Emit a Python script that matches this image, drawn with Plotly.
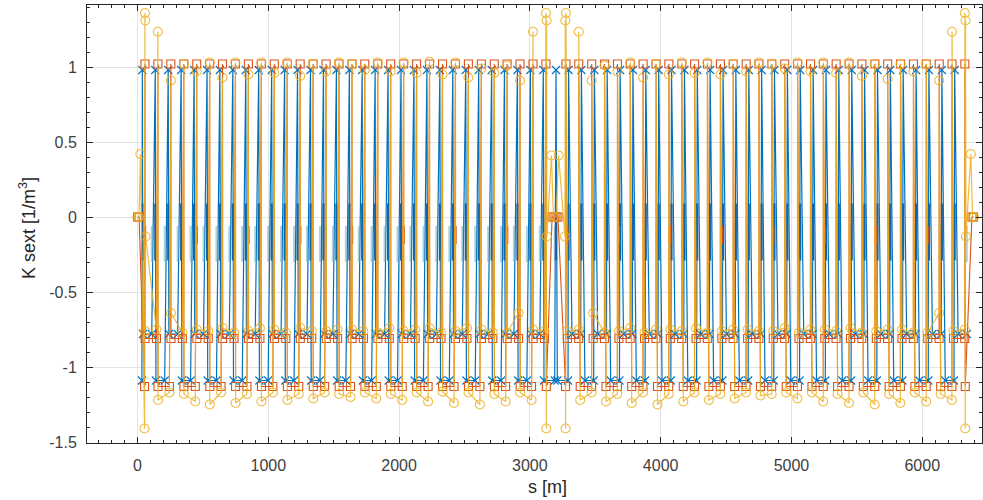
import plotly.graph_objects as go

# ---------------- data ----------------
# sextupole positions shared by the orange and yellow series  [m]
TOP_S = [57, 156, 255, 354, 453, 552, 650, 749, 848, 947, 1046, 1145, 1244, 1343, 1442, 1541,
         1640, 1738, 1837, 1936, 2035, 2134, 2233, 2332, 2431, 2530, 2629, 2728, 2826, 2925, 3024, 3123,
         3276, 3374, 3473, 3571, 3670, 3768, 3866, 3965, 4063, 4162, 4260, 4358, 4457, 4555, 4654, 4752,
         4850, 4949, 5047, 5146, 5244, 5342, 5441, 5539, 5638, 5736, 5834, 5933, 6031, 6130, 6228, 6326]
UPPER_S = [58, 145, 256, 343, 454, 541, 651, 738, 849, 936, 1047, 1134, 1245, 1332, 1443, 1530,
           1641, 1727, 1838, 1925, 2036, 2123, 2234, 2321, 2432, 2519, 2630, 2717, 2827, 2914, 3025, 3112,
           3287, 3373, 3484, 3570, 3681, 3767, 3877, 3964, 4074, 4161, 4271, 4357, 4468, 4554, 4665, 4751,
           4861, 4948, 5058, 5145, 5255, 5341, 5452, 5538, 5649, 5735, 5845, 5932, 6042, 6129, 6239, 6325]
LOWER_S = [54, 157, 244, 355, 442, 553, 639, 750, 837, 948, 1035, 1146, 1233, 1344, 1431, 1542, 1629,
           1739, 1826, 1937, 2024, 2135, 2222, 2333, 2420, 2531, 2618, 2729, 2815, 2926, 3013, 3126,
           3273, 3385, 3472, 3582, 3669, 3779, 3865, 3976, 4062, 4173, 4259, 4369, 4456, 4566, 4653,
           4763, 4849, 4960, 5046, 5157, 5243, 5353, 5440, 5550, 5637, 5747, 5833, 5944, 6030, 6141, 6227, 6329]

# orange series: constant strengths per family, zeros in the insertions
ORANGE_TOP_K = 1.02
ORANGE_UPPER_K = -0.81
ORANGE_LOWER_K = -1.13
ORANGE_INS_S = [0, 12, 3170, 3185, 3200, 3215, 6380, 6392]
ORANGE_INS_K = [0, 0, 0, 0, 0, 0, 0, 0]

# yellow series: individual strengths
YELLOW_TOP_K = [1.36, 1.235, 0.91, 1.02, 0.97, 1.03, 0.93, 1.03, 0.95, 1.03, 0.96, 1.03, 0.94, 1.02, 0.97, 1.03,
                1.02, 0.98, 1.03, 0.97, 1.03, 0.96, 1.035, 0.95, 1.03, 0.93, 0.99, 0.96, 1.01, 0.91, 1.235, 1.36,
                1.36, 1.235, 0.91, 1.01, 0.97, 1.03, 0.93, 1.02, 0.95, 1.03, 0.96, 1.03, 0.95, 1.02, 0.97, 1.03,
                1.02, 0.99, 1.03, 0.97, 1.03, 0.96, 1.03, 0.94, 1.02, 0.92, 1.02, 0.97, 1.02, 0.91, 1.235, 1.36]
YELLOW_UPPER_K = [-0.76, -0.75, -0.64, -0.77, -0.75, -0.76, -0.74, -0.77, -0.76, -0.74, -0.75, -0.77,
                  -0.74, -0.76, -0.76, -0.75, -0.75, -0.76, -0.77, -0.74, -0.76, -0.75, -0.74, -0.77,
                  -0.76, -0.74, -0.75, -0.77, -0.77, -0.64, -0.75, -0.76,
                  -0.76, -0.75, -0.64, -0.77, -0.76, -0.74, -0.77, -0.75, -0.75, -0.76, -0.74, -0.77,
                  -0.76, -0.75, -0.75, -0.76, -0.76, -0.74, -0.77, -0.75, -0.75, -0.76, -0.74, -0.77,
                  -0.76, -0.75, -0.75, -0.77, -0.77, -0.64, -0.76, -0.75]
YELLOW_LOWER_K = [-1.41, -1.22, -1.17, -1.18, -1.23, -1.25, -1.17, -1.24, -1.18, -1.23, -1.17, -1.22, -1.18,
                  -1.21, -1.17, -1.18, -1.20, -1.17, -1.21, -1.18, -1.22, -1.17, -1.23, -1.165, -1.24,
                  -1.17, -1.25, -1.18, -1.23, -1.17, -1.22, -1.41,
                  -1.41, -1.22, -1.17, -1.23, -1.18, -1.24, -1.17, -1.25, -1.18, -1.23, -1.17, -1.22, -1.18,
                  -1.21, -1.17, -1.19, -1.18, -1.17, -1.21, -1.17, -1.23, -1.18, -1.24, -1.17, -1.25,
                  -1.18, -1.24, -1.17, -1.23, -1.18, -1.22, -1.41]
YELLOW_INS_S = [0, 12, 22, 60, 62, 3128, 3130, 3165, 3180, 3200, 3220, 3268, 3271, 6331, 6334, 6372, 6385, 6395]
YELLOW_INS_K = [0, 0, 0.42, 1.31, -0.13, 1.31, -0.13, 0.41, 0, 0, 0.41, -0.13, 1.31, 1.31, -0.13, 0.42, 0, 0]

# blue series
BLUE_TOP_S = [37, 136, 235, 334, 433, 532, 630, 729, 828, 927, 1026, 1125, 1224, 1323, 1422, 1521,
              1620, 1718, 1817, 1916, 2015, 2114, 2213, 2312, 2411, 2510, 2609, 2708, 2806, 2905, 3004, 3103,
              3200,
              3296, 3394, 3493, 3591, 3690, 3788, 3886, 3985, 4083, 4182, 4280, 4378, 4477, 4575, 4674, 4772,
              4870, 4969, 5067, 5166, 5264, 5362, 5461, 5559, 5658, 5756, 5854, 5953, 6051, 6150, 6248]
BLUE_UPPER_S = [42, 109, 240, 307, 438, 505, 635, 702, 833, 900, 1031, 1098, 1229, 1296, 1427, 1494,
                1625, 1692, 1822, 1889, 2020, 2087, 2218, 2285, 2416, 2483, 2614, 2681, 2811, 2878, 3009, 3076,
                3322, 3389, 3519, 3586, 3716, 3783, 3913, 3980, 4110, 4177, 4306, 4373, 4503, 4570, 4700, 4767,
                4897, 4964, 5094, 5161, 5290, 5357, 5487, 5554, 5684, 5751, 5881, 5948, 6078, 6145, 6274, 6341]
BLUE_LOWER_S = [34, 141, 208, 339, 406, 537, 604, 734, 801, 932, 999, 1130, 1197, 1328, 1395, 1526, 1593,
                1723, 1790, 1921, 1988, 2119, 2186, 2317, 2384, 2515, 2582, 2713, 2780, 2910, 2977, 3108,
                3190, 3210,
                3292, 3421, 3488, 3618, 3685, 3814, 3881, 4011, 4078, 4208, 4275, 4405, 4472, 4602, 4669,
                4798, 4865, 4995, 5062, 5192, 5259, 5389, 5456, 5586, 5653, 5782, 5849, 5979, 6046, 6176, 6243]
BLUE_TOP_K = 0.98
BLUE_UPPER_K = -0.78
BLUE_LOWER_K = -1.09

# weak families drawn as short thick strokes around K = 0 (no markers)
WEAK_BLUE_RANGE = [0.09, -0.29]
WEAK_TEAL_RANGE = [-0.06, -0.30]
WEAK_ORANGE_RANGE = [-0.06, -0.18]

X_TICKS = [0, 1000, 2000, 3000, 4000, 5000, 6000]
Y_TICKS = [-1.5, -1, -0.5, 0, 0.5, 1]
Y_TICK_TEXT = ["-1.5", "-1", "-0.5", "0", "0.5", "1"]


def ordered(parts):
    pts = []
    for s_list, k in parts:
        ks = k if isinstance(k, list) else [k] * len(s_list)
        pts.extend(zip(s_list, ks))
    pts.sort(key=lambda p: p[0])
    return [p[0] for p in pts], [p[1] for p in pts]


def strokes(s_list, k_range):
    xs, ys = [], []
    for s in s_list:
        xs += [s, s, None]
        ys += [k_range[0], k_range[1], None]
    return xs, ys


bx, by = ordered([(BLUE_TOP_S, BLUE_TOP_K), (BLUE_UPPER_S, BLUE_UPPER_K), (BLUE_LOWER_S, BLUE_LOWER_K)])
ox, oy = ordered([(TOP_S, ORANGE_TOP_K), (UPPER_S, ORANGE_UPPER_K), (LOWER_S, ORANGE_LOWER_K),
                  (ORANGE_INS_S, ORANGE_INS_K)])
yx, yy = ordered([(TOP_S, YELLOW_TOP_K), (UPPER_S, YELLOW_UPPER_K), (LOWER_S, YELLOW_LOWER_K),
                  (YELLOW_INS_S, YELLOW_INS_K)])

BLUE = "#0072BD"
ORANGE = "#D95319"
YELLOW = "#EDB120"

fig = go.Figure()
fig.add_trace(go.Scatter(x=bx, y=by, mode="lines+markers",
                         line=dict(color=BLUE, width=1.2),
                         marker=dict(symbol="x-thin-open", size=8, line=dict(color=BLUE, width=1.1))))
wx, wy = strokes(BLUE_UPPER_S[1::2] + BLUE_LOWER_S[2::2], WEAK_TEAL_RANGE)
fig.add_trace(go.Scatter(x=wx, y=wy, mode="lines", opacity=0.55, line=dict(color="#6aaec4", width=2.0)))
wx, wy = strokes(BLUE_TOP_S, WEAK_BLUE_RANGE)
fig.add_trace(go.Scatter(x=wx, y=wy, mode="lines", line=dict(color="#1565a6", width=2.2)))
fig.add_trace(go.Scatter(x=ox, y=oy, mode="lines+markers",
                         line=dict(color=ORANGE, width=1.1),
                         marker=dict(symbol="square-open", size=8, color=ORANGE, line=dict(color=ORANGE, width=1.1))))
wx, wy = strokes(UPPER_S[::4], WEAK_ORANGE_RANGE)
fig.add_trace(go.Scatter(x=wx, y=wy, mode="lines", line=dict(color=ORANGE, width=2.2)))
fig.add_trace(go.Scatter(x=yx, y=yy, mode="lines+markers", opacity=0.85,
                         line=dict(color=YELLOW, width=1.2),
                         marker=dict(symbol="circle-open", size=9, color=YELLOW, line=dict(color=YELLOW, width=1.1))))

axis_col = "#262626"
tick_font = dict(family="Liberation Sans, Arial, sans-serif", size=16, color="#404040")
title_font = dict(family="Liberation Sans, Arial, sans-serif", size=18, color="#262626")

fig.update_layout(
    width=983, height=500,
    margin=dict(l=87, r=1, t=5, b=57),
    paper_bgcolor="white", plot_bgcolor="white",
    showlegend=False,
    xaxis=dict(range=[-386, 6457], tickvals=X_TICKS, ticks="inside", ticklen=6, tickcolor=axis_col,
               showline=True, linecolor=axis_col, linewidth=1, mirror="ticks",
               showgrid=True, gridcolor="#e3e3e3", gridwidth=1, zeroline=False,
               tickfont=tick_font, ticklabelstandoff=8,
               minor=dict(dtick=100, tick0=0, ticks="inside", ticklen=3, tickcolor=axis_col, showgrid=False)),
    yaxis=dict(range=[-1.5067, 1.4133], tickvals=Y_TICKS, ticktext=Y_TICK_TEXT, ticks="inside", ticklen=6,
               tickcolor=axis_col, showline=True, linecolor=axis_col, linewidth=1, mirror="ticks",
               showgrid=True, gridcolor="#e3e3e3", gridwidth=1, zeroline=False,
               tickfont=tick_font, ticklabelstandoff=6,
               minor=dict(dtick=0.1, tick0=0, ticks="inside", ticklen=3, tickcolor=axis_col, showgrid=False)),
    annotations=[
        dict(text="s [m]", xref="paper", yref="paper", x=(547 - 87) / 895, y=-44 / 438,
             xanchor="center", yanchor="middle", showarrow=False, font=title_font),
        dict(text="K sext [1/m<sup>3</sup>]", xref="paper", yref="paper", x=(27 - 87) / 895,
             y=(438 - (228 - 5)) / 438,
             xanchor="center", yanchor="middle", textangle=-90, showarrow=False, font=title_font),
    ],
)

fig.write_html("out.html")
